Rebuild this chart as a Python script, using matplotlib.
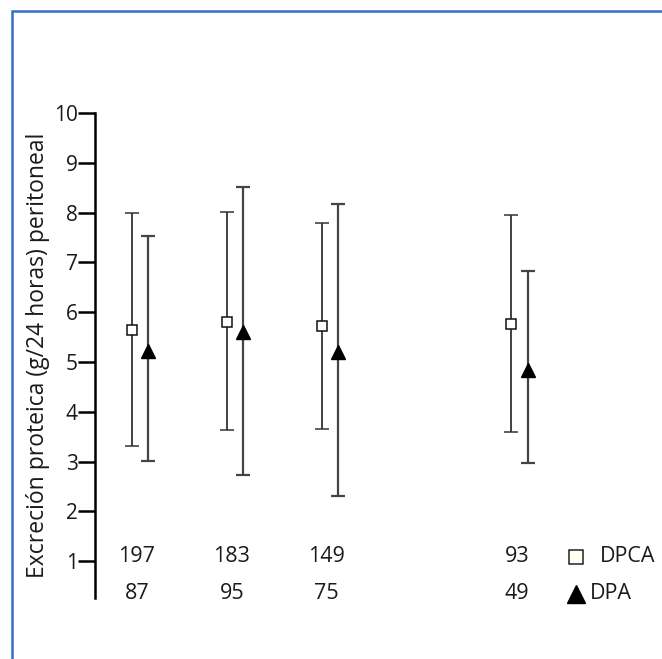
import numpy as np
import matplotlib.pyplot as plt
from matplotlib.patches import Rectangle

plt.rcParams['font.family'] = ['Open Sans', 'DejaVu Sans']

# posicion de los grupos
grupos = [1, 2, 3, 5]

# DPCA (cuadrado blanco)
dpca_media = [5.64, 5.80, 5.72, 5.76]
dpca_sup = [8.00, 8.02, 7.80, 7.95]
dpca_inf = [3.32, 3.63, 3.66, 3.59]
dpca_n = ['197', '183', '149', '93']

# DPA (triangulo negro)
dpa_media = [5.22, 5.60, 5.20, 4.84]
dpa_sup = [7.52, 8.52, 8.17, 6.82]
dpa_inf = [3.02, 2.73, 2.30, 2.97]
dpa_n = ['87', '95', '75', '49']

fig = plt.figure(figsize=(6.62, 6.59), dpi=100)
ax = fig.add_axes([95/662, 1 - 598/659, 567/662, 485/659])

x = np.array(grupos, dtype=float)
off = 0.085

m = np.array(dpca_media)
ax.errorbar(x - off, m, yerr=[m - np.array(dpca_inf), np.array(dpca_sup) - m],
            fmt='s', color='#222222', ecolor='#333333', elinewidth=1.3,
            capsize=5, capthick=1.6, markersize=6.5, markerfacecolor='white',
            markeredgecolor='#111111', markeredgewidth=1.1, zorder=3)

m = np.array(dpa_media)
ax.errorbar(x + off, m, yerr=[m - np.array(dpa_inf), np.array(dpa_sup) - m],
            fmt='^', color='black', ecolor='#444444', elinewidth=1.6,
            capsize=5, capthick=1.6, markersize=9.5, markerfacecolor='black',
            markeredgecolor='black', zorder=3)

ax.set_ylim(0.26, 10)
ax.set_xlim(0.53, 6.5)
ax.set_yticks(range(1, 11))
ax.set_xticks([])
for s in ['top', 'right', 'bottom']:
    ax.spines[s].set_visible(False)
ax.spines['left'].set_linewidth(1.8)
ax.tick_params(axis='y', direction='out', length=12, width=1.8, labelsize=15,
               pad=0.5, labelcolor='#1a1a1a')
ax.set_ylabel('Excreción proteica (g/24 horas) peritoneal', fontsize=16.5,
              labelpad=3, color='#1a1a1a')

# tamanos de muestra
for xi, a, b in zip(x, dpca_n, dpa_n):
    ax.text(xi - 0.03, 1.09, a, ha='center', va='center', fontsize=15.5,
            color='#1a1a1a', clip_on=False)
    ax.text(xi - 0.03, 0.35, b, ha='center', va='center', fontsize=15.5,
            color='#1a1a1a', clip_on=False)

# leyenda manual
ax.plot([5.59], [1.09], 's', markersize=9.5, markerfacecolor='#fffff4',
        markeredgecolor='#222222', markeredgewidth=1.1, clip_on=False)
ax.text(5.85, 1.09, 'DPCA', ha='left', va='center', fontsize=15.5,
        color='#1a1a1a', clip_on=False)
ax.plot([5.59], [0.35], '^', markersize=13, color='black', clip_on=False)
ax.text(5.74, 0.35, 'DPA', ha='left', va='center', fontsize=15.5,
        color='#1a1a1a', clip_on=False)

# marco azul
fig.patches.append(Rectangle((12/662, -0.1), 1.2, 1 - 11/659 + 0.1,
                             transform=fig.transFigure, fill=False,
                             edgecolor='#3b6cc4', linewidth=1.8))

fig.savefig('out.png', dpi=100)
